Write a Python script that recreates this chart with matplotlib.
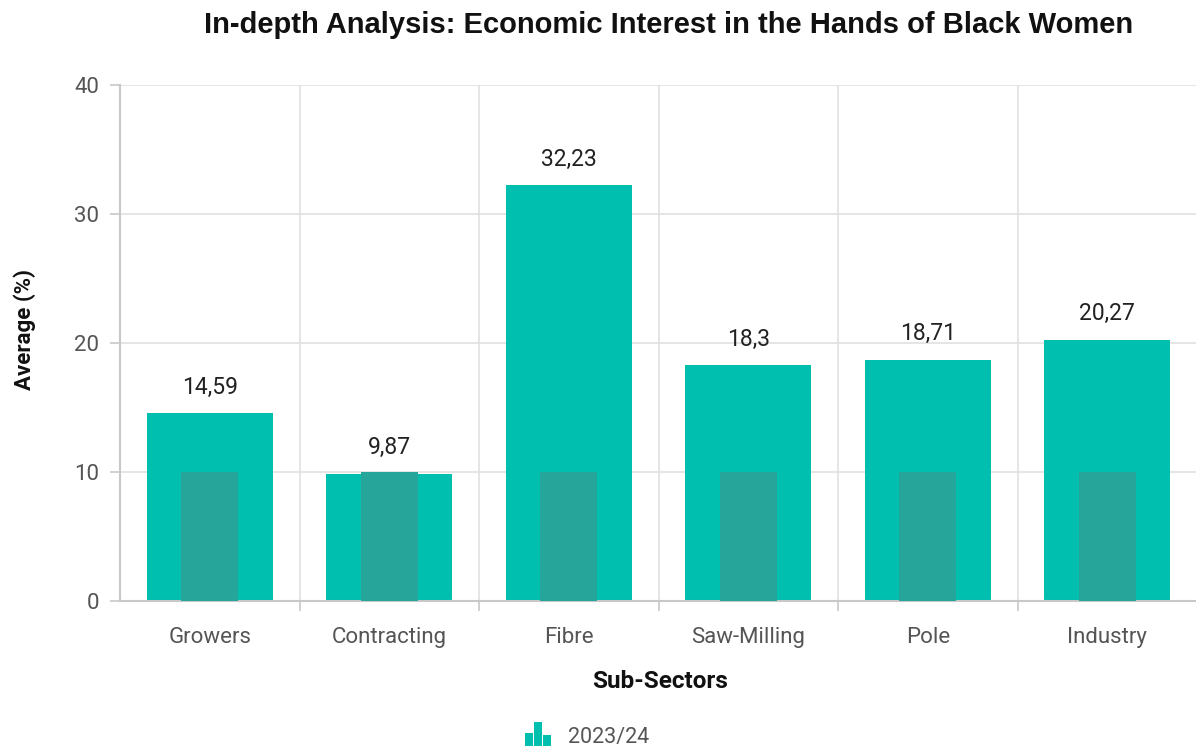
import matplotlib
matplotlib.use("Agg")
import matplotlib.pyplot as plt
import matplotlib.patches as mpatches
from matplotlib.legend_handler import HandlerBase
import numpy as np

categories = ["Growers", "Contracting", "Fibre", "Saw-Milling", "Pole", "Industry"]
averages = [14.59, 9.87, 32.23, 18.3, 18.71, 20.27]
benchmark = [10, 10, 10, 10, 10, 10]
value_labels = ["14,59", "9,87", "32,23", "18,3", "18,71", "20,27"]
y_ticks = [0, 10, 20, 30, 40]
series_name = "2023/24"

MAIN = "#00BFAE"
INNER = "#26A69A"
GRID = "#E0E0E0"
AXIS = "#C8C8C8"
TICKTXT = "#555555"

plt.rcParams["font.family"] = ["Roboto", "DejaVu Sans"]

fig = plt.figure(figsize=(11.96, 7.46), dpi=100)
ax = fig.add_axes([120 / 1196, 1 - 601 / 746, 1077 / 1196, (601 - 85) / 746])

x = np.arange(len(categories))
ax.bar(x, averages, width=0.70, color=MAIN, zorder=2)
ax.bar(x, benchmark, width=0.32, color=INNER, zorder=3)

for xi, v, lab in zip(x, averages, value_labels):
    ax.text(xi, v + 2.0, lab, ha="center", va="center", fontsize=16.5, color="#222222")

ax.set_xlim(-0.5, len(categories) - 0.5)
ax.set_ylim(0, 40)
ax.set_yticks(y_ticks)
ax.set_yticklabels([str(t) for t in y_ticks], fontsize=16, color=TICKTXT)
ax.set_xticks(x)
ax.set_xticklabels(categories, fontsize=16, color=TICKTXT)
ax.tick_params(axis="x", length=0, pad=19)
ax.tick_params(axis="y", length=7, color=AXIS, width=1.2, pad=8)

# category boundary grid lines and ticks
bounds = np.arange(0.5, len(categories) - 0.5, 1.0)
ax.set_xticks(bounds, minor=True)
ax.tick_params(axis="x", which="minor", length=7, color=AXIS, width=1.2)
ax.grid(True, axis="x", which="minor", color=GRID, linewidth=1.2, zorder=0)
ax.grid(True, axis="y", which="major", color=GRID, linewidth=1.2, zorder=0)
ax.set_axisbelow(True)

for side in ["top", "right"]:
    ax.spines[side].set_visible(False)
ax.spines["left"].set_color(AXIS)
ax.spines["bottom"].set_color(AXIS)
ax.spines["left"].set_linewidth(1.5)
ax.spines["bottom"].set_linewidth(1.5)

ax.set_xlabel("Sub-Sectors", fontsize=17.5, fontweight="bold", color="#111111", va="center")
ax.xaxis.set_label_coords(0.5 + (660 - 658) / 1077, (601 - 681) / 516)
ax.set_ylabel("Average (%)", fontsize=16, fontweight="bold", color="#111111", va="center")
ax.yaxis.set_label_coords((25 - 120) / 1077, (601 - 329) / 516)

fig.text(669 / 1196, 1 - 25 / 746, "In-depth Analysis: Economic Interest in the Hands of Black Women",
         ha="center", va="center", fontsize=21, fontweight="bold",
         family=["Liberation Sans", "DejaVu Sans"], color="#111111")


class BarIconHandler(HandlerBase):
    def create_artists(self, legend, orig_handle, xdescent, ydescent, width, height, fontsize, trans):
        heights = [0.55, 1.0, 0.45]
        w = width / 3.2
        arts = []
        for i, h in enumerate(heights):
            r = mpatches.Rectangle((xdescent + i * (w + width * 0.03), -ydescent), w, height * h * 1.2,
                                   facecolor=MAIN, edgecolor="none", transform=trans)
            arts.append(r)
        return arts


handle = mpatches.Patch(color=MAIN)
fig.legend([handle], [series_name], loc="center", bbox_to_anchor=(587 / 1196, 1 - 737 / 746),
           frameon=False, fontsize=15.5, handler_map={mpatches.Patch: BarIconHandler()},
           handlelength=1.2, handleheight=1.1, handletextpad=0.8, labelcolor="#555555")

fig.savefig("out.png", dpi=100)
